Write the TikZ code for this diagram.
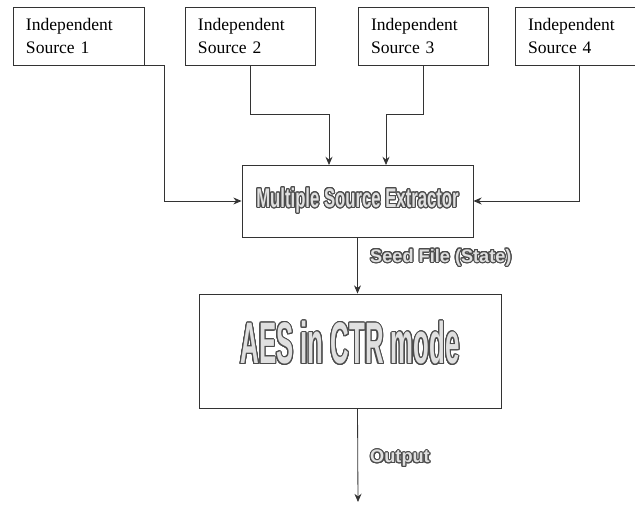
\documentclass[tikz,border=0pt]{standalone}
\usepackage{fontspec}
\setmainfont{Liberation Serif}
\newfontfamily\blockfont[FakeStretch=0.62]{Liberation Sans}
\newfontfamily\bigfont[FakeStretch=0.44]{Liberation Sans}
\newfontfamily\labelfont{Liberation Sans}
\usepackage[copies]{contour}
\usepackage{tikz}
\usetikzlibrary{positioning, arrows.meta}
\contourlength{0.9pt}
\contournumber{24}
\newcommand{\hollow}[1]{\contour{black!70}{\textcolor{black!12}{#1}}}

\begin{document}
\begin{tikzpicture}[x=0.03cm, y=-0.03cm,
    srcbox/.style={draw=black!80, line width=0.8pt, align=left, inner xsep=0.39cm,
      minimum height=1.74cm, font=\fontsize{15}{19.5}\selectfont},
    bigbox/.style={draw=black!80, line width=0.8pt},
    arr/.style={draw=black!80, line width=0.7pt, -{Stealth[length=7pt, width=6pt]}}]
    \useasboundingbox (0,0) rectangle (635,506);

    % draw the four independent sources
    \node[srcbox, text width=3.15cm] (s1) at (78.5, 36) {Independent\\Source 1};
    \node[srcbox, text width=3.12cm] (s2) at (250, 36) {Independent\\Source 2};
    \node[srcbox, text width=3.12cm] (s3) at (423, 36) {Independent\\Source 3};
    \node[srcbox, text width=3.06cm] (s4) at (579, 36) {Independent\\Source 4};

    % draw the extractor block
    \node[bigbox, minimum width=6.93cm, minimum height=2.16cm] (mse) at (357.5, 201)
      {\blockfont\bfseries\fontsize{23}{23}\selectfont\hollow{Multiple Source Extractor}};

    % draw the AES block
    \node[bigbox, minimum width=9.06cm, minimum height=3.42cm, text depth=0.5cm] (aes) at (350, 351)
      {\bigfont\bfseries\fontsize{50}{50}\selectfont\hollow{AES in CTR mode}};

    % entry points on top of the extractor
    \coordinate (in2) at (329, 165);
    \coordinate (in3) at (386, 165);
    \coordinate (out) at (358, 502);

    % draw the connectors into the extractor
    \draw[arr] (s1.south east) -- ++(20,0) |- (mse.west);
    \draw[arr] (s2.south) -- ++(0,49) -| (in2);
    \draw[arr] (s3.south) -- ++(0,49) -| (in3);
    \draw[arr] (s4.south) |- (mse.east);

    % draw the seed file and the output
    \draw[arr] (mse.south) -- (mse.south |- aes.north);
    \draw[arr] (mse.south |- aes.south) -- (out);

    % draw the labels on the connectors
    \node[anchor=west, inner sep=0pt] (seed) at (370, 258)
      {\labelfont\bfseries\fontsize{15.5}{15.5}\selectfont\hollow{Seed File (State)}};
    \node[anchor=west, inner sep=0pt] (outlabel) at (370, 459)
      {\labelfont\bfseries\fontsize{15.5}{15.5}\selectfont\hollow{Output}};

  \end{tikzpicture}
\end{document}
